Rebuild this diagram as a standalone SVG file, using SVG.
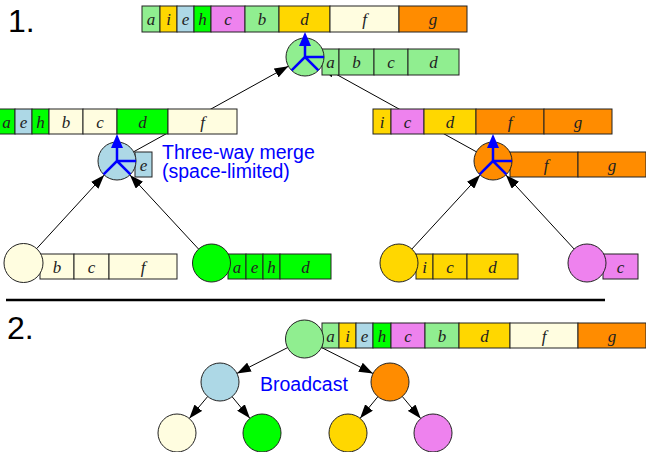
<svg xmlns="http://www.w3.org/2000/svg" width="646" height="452" viewBox="0 0 646 452">
<style>
.cell{stroke:#222;stroke-width:1}
.nd{stroke:#222;stroke-width:1}
.t{font-family:"Liberation Serif","DejaVu Serif",serif;font-style:italic;font-size:17px;text-anchor:middle;fill:#222}
.y{stroke:#0000ff;stroke-width:2.5;fill:none}
.yh{fill:#0000ff}
.lbl{font-family:"Liberation Sans",Arial,sans-serif;font-size:19.5px;fill:#0000ff}
.num{font-family:"Liberation Sans",Arial,sans-serif;font-size:32px;fill:#000}
.con{stroke:#000;stroke-width:1;fill:none;marker-end:url(#ah)}
.lg{fill:#90ee90}.go{fill:#ffd700}.lb{fill:#add8e6}.li{fill:#00ff00}.vi{fill:#ee82ee}.ly{fill:#fffde0}.or{fill:#ff8c00}
</style>
<defs>
<marker id="ah" markerUnits="userSpaceOnUse" markerWidth="14" markerHeight="10" refX="14" refY="5" orient="auto"><path d="M0,0 L14,5 L0,10 z" fill="#000"/></marker>
</defs>
<text class="num" x="8" y="32">1.</text>
<text class="num" x="7" y="339">2.</text>
<line x1="6" y1="300" x2="605" y2="300" stroke="#000" stroke-width="2.5"/>
<g id="connectors">
<line class="con" x1="133.6" y1="151.8" x2="288.4" y2="66.2"/>
<line class="con" x1="476.4" y1="151.8" x2="321.6" y2="66.2"/>
<line class="con" x1="36.7" y1="248.6" x2="104.2" y2="175"/>
<line class="con" x1="198.6" y1="249.1" x2="129.9" y2="174.9"/>
<line class="con" x1="411.9" y1="249" x2="480.1" y2="175"/>
<line class="con" x1="574.1" y1="249" x2="505.9" y2="175"/>
<line class="con" x1="287.6" y1="347.6" x2="236.9" y2="373.4"/>
<line class="con" x1="321.5" y1="347.5" x2="373" y2="373.5"/>
<line class="con" x1="207.7" y1="396.5" x2="189.3" y2="418.5"/>
<line class="con" x1="232.1" y1="396.7" x2="249.9" y2="418.3"/>
<line class="con" x1="377.9" y1="396.7" x2="360.1" y2="418.3"/>
<line class="con" x1="402.3" y1="396.5" x2="420.7" y2="418.5"/>
</g>
<g id="root">
<rect class="cell lg" x="142" y="6" width="18" height="26"/><text class="t" x="151" y="24.5">a</text>
<rect class="cell go" x="160" y="6" width="17" height="26"/><text class="t" x="168.5" y="24.5">i</text>
<rect class="cell lb" x="177" y="6" width="17" height="26"/><text class="t" x="185.5" y="24.5">e</text>
<rect class="cell li" x="194" y="6" width="17" height="26"/><text class="t" x="202.5" y="24.5">h</text>
<rect class="cell vi" x="211" y="6" width="34" height="26"/><text class="t" x="228" y="24.5">c</text>
<rect class="cell lg" x="245" y="6" width="34" height="26"/><text class="t" x="262" y="24.5">b</text>
<rect class="cell go" x="279" y="6" width="51" height="26"/><text class="t" x="304.5" y="24.5">d</text>
<rect class="cell ly" x="330" y="6" width="69" height="26"/><text class="t" x="364.5" y="24.5">f</text>
<rect class="cell or" x="399" y="6" width="68" height="26"/><text class="t" x="433" y="24.5">g</text>
<rect class="cell lg" x="322" y="49" width="17" height="26"/><text class="t" x="330.5" y="67.5">a</text>
<rect class="cell lg" x="339" y="49" width="35" height="26"/><text class="t" x="356.5" y="67.5">b</text>
<rect class="cell lg" x="374" y="49" width="34" height="26"/><text class="t" x="391" y="67.5">c</text>
<rect class="cell lg" x="408" y="49" width="51" height="26"/><text class="t" x="433.5" y="67.5">d</text>
<circle class="nd lg" cx="305" cy="57" r="19"/>
<path class="y" d="M305,57 V45 M305,57 H324 M305,57 L291.6,70.4 M305,57 L318.4,70.4"/>
<polygon class="yh" points="305,32 299,46 311,46"/>
</g>
<g id="merge-left">
<rect class="cell li" x="-2" y="109" width="17" height="25"/><text class="t" x="6.5" y="127.5">a</text>
<rect class="cell lb" x="15" y="109" width="17" height="25"/><text class="t" x="23.5" y="127.5">e</text>
<rect class="cell li" x="32" y="109" width="17" height="25"/><text class="t" x="40.5" y="127.5">h</text>
<rect class="cell ly" x="49" y="109" width="34" height="25"/><text class="t" x="66" y="127.5">b</text>
<rect class="cell ly" x="83" y="109" width="34" height="25"/><text class="t" x="100" y="127.5">c</text>
<rect class="cell li" x="117" y="109" width="51" height="25"/><text class="t" x="142.5" y="127.5">d</text>
<rect class="cell ly" x="168" y="109" width="69" height="25"/><text class="t" x="202.5" y="127.5">f</text>
<rect class="cell lb" x="135" y="152" width="17" height="25"/><text class="t" x="143.5" y="170.5">e</text>
<circle class="nd lb" cx="117" cy="161" r="19"/>
<path class="y" d="M117,161 V147 M117,161 H136 M117,161 L103.6,174.4 M117,161 L130.4,174.4"/>
<polygon class="yh" points="117,134 111,148 123,148"/>
<text class="lbl" x="162" y="159">Three-way merge</text>
<text class="lbl" x="162" y="177.5">(space-limited)</text>
</g>
<g id="merge-right">
<rect class="cell go" x="373" y="109" width="18" height="25"/><text class="t" x="382" y="127.5">i</text>
<rect class="cell vi" x="391" y="109" width="33" height="25"/><text class="t" x="407.5" y="127.5">c</text>
<rect class="cell go" x="424" y="109" width="52" height="25"/><text class="t" x="450" y="127.5">d</text>
<rect class="cell or" x="476" y="109" width="68" height="25"/><text class="t" x="510" y="127.5">f</text>
<rect class="cell or" x="544" y="109" width="68" height="25"/><text class="t" x="578" y="127.5">g</text>
<rect class="cell or" x="510" y="152" width="68" height="25"/><text class="t" x="546" y="170.5">f</text>
<rect class="cell or" x="578" y="152" width="68" height="25"/><text class="t" x="612" y="170.5">g</text>
<circle class="nd or" cx="493" cy="161" r="19"/>
<path class="y" d="M493,161 V147 M493,161 H512 M493,161 L479.6,174.4 M493,161 L506.4,174.4"/>
<polygon class="yh" points="493,134 487,148 499,148"/>
</g>
<g id="leaf-1">
<rect class="cell ly" x="40" y="254" width="34" height="25"/><text class="t" x="57" y="272.5">b</text>
<rect class="cell ly" x="74" y="254" width="35" height="25"/><text class="t" x="91.5" y="272.5">c</text>
<rect class="cell ly" x="109" y="254" width="68" height="25"/><text class="t" x="143" y="272.5">f</text>
<circle class="nd ly" cx="23.5" cy="263" r="19.5"/>
</g>
<g id="leaf-2">
<rect class="cell li" x="228" y="254" width="18" height="25"/><text class="t" x="237" y="272.5">a</text>
<rect class="cell li" x="246" y="254" width="17" height="25"/><text class="t" x="254.5" y="272.5">e</text>
<rect class="cell li" x="263" y="254" width="17" height="25"/><text class="t" x="271.5" y="272.5">h</text>
<rect class="cell li" x="280" y="254" width="51" height="25"/><text class="t" x="305.5" y="272.5">d</text>
<circle class="nd li" cx="211.5" cy="263" r="19"/>
</g>
<g id="leaf-3">
<rect class="cell go" x="416" y="254" width="17" height="25"/><text class="t" x="424.5" y="272.5">i</text>
<rect class="cell go" x="433" y="254" width="34" height="25"/><text class="t" x="450" y="272.5">c</text>
<rect class="cell go" x="467" y="254" width="51" height="25"/><text class="t" x="492.5" y="272.5">d</text>
<circle class="nd go" cx="399" cy="263" r="19"/>
</g>
<g id="leaf-4">
<rect class="cell vi" x="603" y="254" width="35" height="25"/><text class="t" x="620.5" y="272.5">c</text>
<circle class="nd vi" cx="587" cy="263" r="19"/>
</g>
<g id="b-root">
<rect class="cell lg" x="322" y="323" width="17" height="25"/><text class="t" x="330.5" y="341.5">a</text>
<rect class="cell go" x="339" y="323" width="17" height="25"/><text class="t" x="347.5" y="341.5">i</text>
<rect class="cell lb" x="356" y="323" width="17" height="25"/><text class="t" x="364.5" y="341.5">e</text>
<rect class="cell li" x="373" y="323" width="18" height="25"/><text class="t" x="382" y="341.5">h</text>
<rect class="cell vi" x="391" y="323" width="34" height="25"/><text class="t" x="408" y="341.5">c</text>
<rect class="cell lg" x="425" y="323" width="34" height="25"/><text class="t" x="442" y="341.5">b</text>
<rect class="cell go" x="459" y="323" width="51" height="25"/><text class="t" x="484.5" y="341.5">d</text>
<rect class="cell ly" x="510" y="323" width="68" height="25"/><text class="t" x="544" y="341.5">f</text>
<rect class="cell or" x="578" y="323" width="68" height="25"/><text class="t" x="612" y="341.5">g</text>
<circle class="nd lg" cx="304.5" cy="339" r="19"/>
</g>
<g id="b-left"><circle class="nd lb" cx="220" cy="382" r="19"/></g>
<g id="b-right"><circle class="nd or" cx="390" cy="382" r="19"/></g>
<text class="lbl" x="260" y="391">Broadcast</text>
<g id="b-leaf-1"><circle class="nd ly" cx="177" cy="433" r="19"/></g>
<g id="b-leaf-2"><circle class="nd li" cx="262" cy="433" r="19"/></g>
<g id="b-leaf-3"><circle class="nd go" cx="348" cy="433" r="19"/></g>
<g id="b-leaf-4"><circle class="nd vi" cx="433" cy="433" r="19"/></g>
</svg>
